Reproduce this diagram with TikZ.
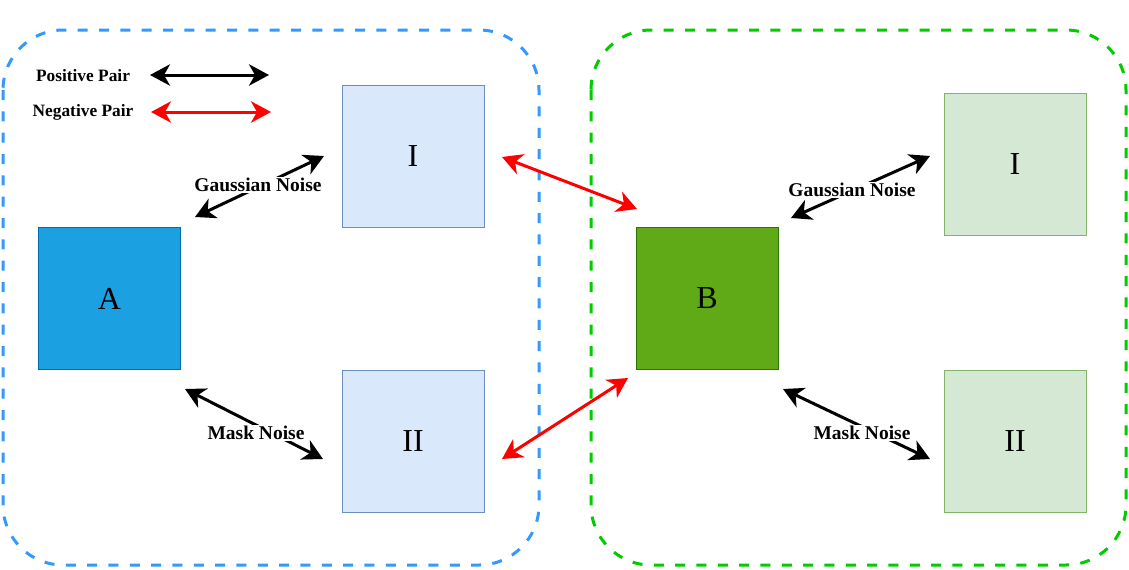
\documentclass[tikz,border=0pt]{standalone}
\usepackage{fontspec}
\setmainfont{Liberation Serif}
\usetikzlibrary{arrows.meta}
\definecolor{blueA}{HTML}{1BA1E2}
\definecolor{blueAline}{HTML}{006EAF}
\definecolor{lightblue}{HTML}{DAE8FC}
\definecolor{lightblueline}{HTML}{6C8EBF}
\definecolor{greenB}{HTML}{60A917}
\definecolor{greenBline}{HTML}{2D7600}
\definecolor{lightgreen}{HTML}{D5E8D4}
\definecolor{lightgreenline}{HTML}{82B366}
\definecolor{dashblue}{HTML}{3399FF}
\definecolor{dashgreen}{HTML}{00CC00}
\begin{document}
\begin{tikzpicture}[x=0.75pt,y=-0.75pt,
  box/.style={minimum width=106.5pt,minimum height=106.5pt,inner sep=0pt,line width=0.75pt,font=\fontsize{24}{26}\selectfont},
  container/.style={line width=2.25pt,dash pattern=on 7.5pt off 8.5pt,rounded corners=45pt},
  dbl/.style={line width=2.25pt,{Stealth[length=15pt,width=16pt,inset=4.5pt]}-{Stealth[length=15pt,width=16pt,inset=4.5pt]}},
  lbl/.style={fill=white,inner sep=1pt,font=\bfseries\fontsize{14.6}{16}\selectfont},
  leg/.style={inner sep=0pt,font=\bfseries\fontsize{13}{15}\selectfont}]
\useasboundingbox (0,0) rectangle (1129,569);
% containers
\draw[container,dashblue] (3,30) rectangle (539,565);
\draw[container,dashgreen] (591,30) rectangle (1126,565);
% boxes
\node[box,draw=blueAline,fill=blueA] (A) at (109.5,298.5) {A};
\node[box,draw=lightblueline,fill=lightblue] (LI) at (413,156) {I};
\node[box,draw=lightblueline,fill=lightblue] (LII) at (413,441) {II};
\node[box,draw=greenBline,fill=greenB] (B) at (707,298) {B};
\node[box,draw=lightgreenline,fill=lightgreen] (RI) at (1015,164) {I};
\node[box,draw=lightgreenline,fill=lightgreen] (RII) at (1015,441) {II};
% legend
\node[leg] (pos) at (83,76) {Positive Pair};
\node[leg] (neg) at (83,112) {Negative Pair};
\coordinate (p1) at (150,75); \coordinate (p2) at (269,75);
\coordinate (n1) at (151,112); \coordinate (n2) at (271,112);
\draw[dbl,black] (p1) -- (p2);
\draw[dbl,red] (n1) -- (n2);
% arrow endpoints
\coordinate (ga1) at (195,217); \coordinate (ga2) at (324,156);
\coordinate (ma1) at (185,389); \coordinate (ma2) at (323,459);
\coordinate (gb1) at (791,218); \coordinate (gb2) at (930,156);
\coordinate (mb1) at (783,389); \coordinate (mb2) at (930,459);
\coordinate (r1a) at (502,157); \coordinate (r1b) at (637,209);
\coordinate (r2a) at (502,459); \coordinate (r2b) at (628,378);
\draw[dbl,black] (ga1) -- (ga2);
\draw[dbl,black] (ma1) -- (ma2);
\draw[dbl,black] (gb1) -- (gb2);
\draw[dbl,black] (mb1) -- (mb2);
\draw[dbl,red] (r1a) -- (r1b);
\draw[dbl,red] (r2a) -- (r2b);
% labels
\node[lbl] (gla) at (258,185) {Gaussian Noise};
\node[lbl] (mla) at (256,433) {Mask Noise};
\node[lbl] (glb) at (852,190) {Gaussian Noise};
\node[lbl] (mlb) at (862,433) {Mask Noise};
\end{tikzpicture}
\end{document}
